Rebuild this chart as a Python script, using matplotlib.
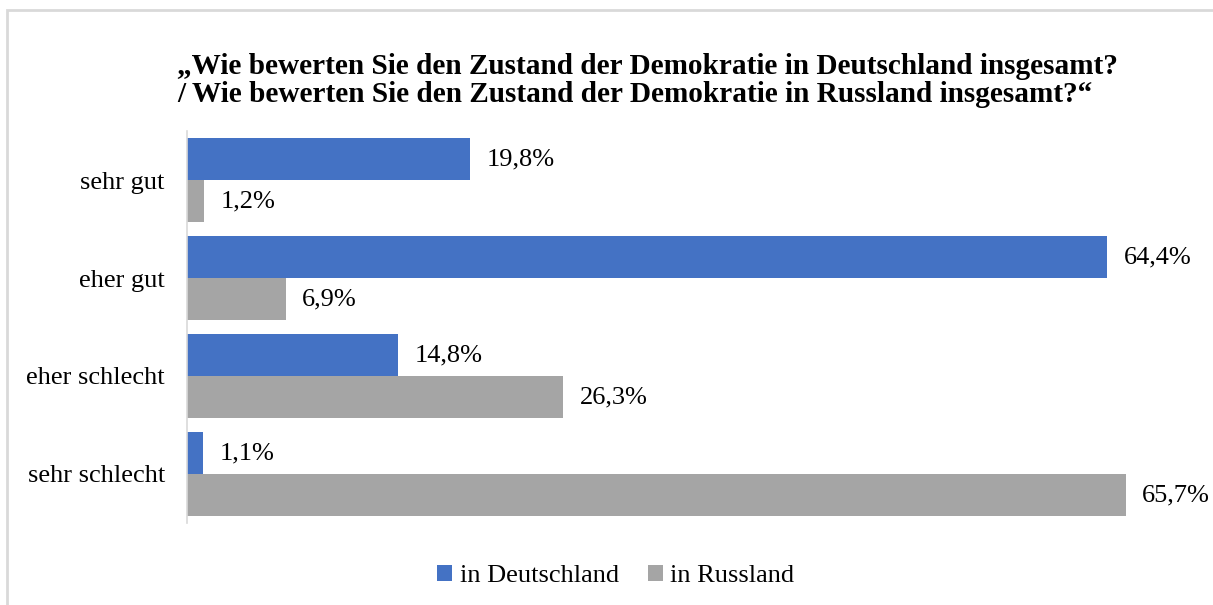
import matplotlib
matplotlib.use("Agg")
import matplotlib.pyplot as plt
from matplotlib.patches import Rectangle
import numpy as np

plt.rcParams["font.family"] = ["Liberation Serif", "DejaVu Serif"]

categories = ["sehr gut", "eher gut", "eher schlecht", "sehr schlecht"]
deutschland = [19.8, 64.4, 14.8, 1.1]
russland = [1.2, 6.9, 26.3, 65.7]
series_names = ["in Deutschland", "in Russland"]
title = ("„Wie bewerten Sie den Zustand der Demokratie in Deutschland insgesamt?\n"
         "/ Wie bewerten Sie den Zustand der Demokratie in Russland insgesamt?“")

BLUE, GREY = "#4472C4", "#A5A5A5"
W, H = 1213, 605

fig = plt.figure(figsize=(W / 100, H / 100), dpi=100)
ax = fig.add_axes([187 / W, 1 - 523 / H, 1000 / W, 392 / H])

y = np.arange(len(categories))
h = 42 / 98
b1 = ax.barh(y - h / 2, deutschland, height=h, color=BLUE, label=series_names[0])
b2 = ax.barh(y + h / 2, russland, height=h, color=GREY, label=series_names[1])

for bars, vals in ((b1, deutschland), (b2, russland)):
    for bar, v in zip(bars, vals):
        ax.annotate(f"{v:.1f}%".replace(".", ","),
                    (bar.get_width(), bar.get_y() + bar.get_height() / 2),
                    xytext=(12, 0), textcoords="offset points",
                    ha="left", va="center", fontsize=19)

ax.set_xlim(0, 70)
ax.set_ylim(len(categories) - 0.5, -0.5)
ax.set_yticks(y)
ax.set_yticklabels(categories, fontsize=19)
ax.tick_params(axis="y", length=0, pad=16)
ax.set_xticks([])
for s in ("top", "right", "bottom"):
    ax.spines[s].set_visible(False)
ax.spines["left"].set_color("#D9D9D9")
ax.spines["left"].set_linewidth(1.2)

fig.text(177 / W, 1 - 53 / H, title, ha="left", va="top", fontsize=21.1,
         fontweight="bold", linespacing=1.07)

fig.legend(handles=[b1, b2], loc="center", bbox_to_anchor=(616 / W, 1 - 576 / H),
           ncol=2, frameon=False, fontsize=19, handlelength=0.55, handleheight=0.55,
           handletextpad=0.3, columnspacing=1.1)

fig.patches.append(Rectangle((7 / W, -0.1), 1.2, 1 - 10 / H + 0.1,
                             transform=fig.transFigure, fill=False,
                             edgecolor="#D9D9D9", linewidth=2))

fig.savefig("out.png", dpi=100)
